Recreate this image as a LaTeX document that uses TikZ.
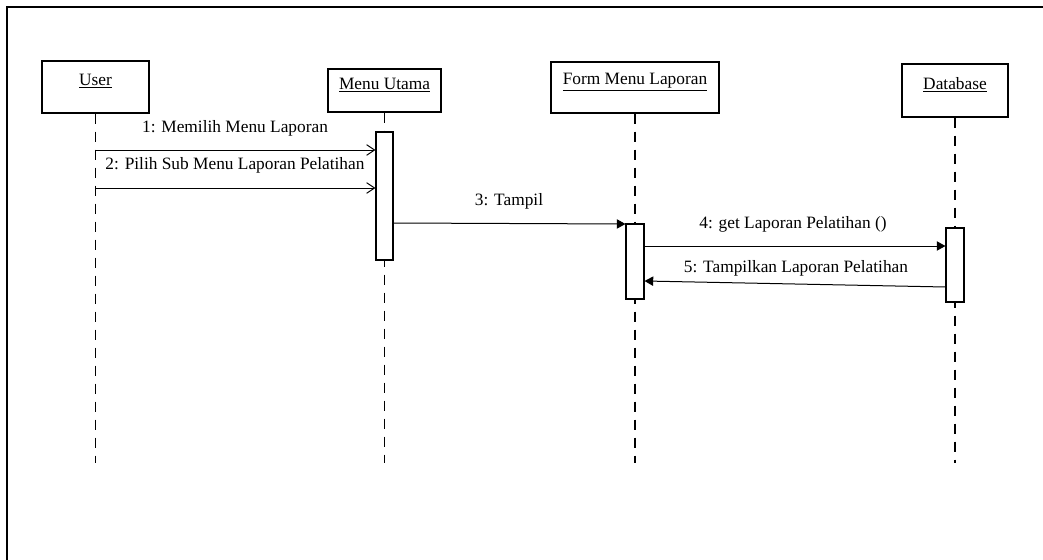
\documentclass[tikz,border=0pt]{standalone}
\usepackage{fontspec}
\setmainfont{Liberation Serif}
\usetikzlibrary{arrows.meta,fit}
\begin{document}
\begin{tikzpicture}[x=0.75pt,y=-0.75pt,
  objbox/.style={draw,line width=0.9pt,inner sep=0pt,fill=white,font=\fontsize{13}{15}\selectfont},
  actbox/.style={draw,line width=0.8pt,inner sep=0pt,fill=white},
  lifeline/.style={line width=0.9pt,dash pattern=on 7.5pt off 6pt},
  msgopen/.style={line width=0.75pt,-{Straight Barb[length=6pt,width=8pt,line width=0.75pt]}},
  msgfill/.style={line width=0.75pt,-{Triangle[length=6.5pt,width=7pt]}},
  msglabel/.style={font=\fontsize{13}{15}\selectfont,inner sep=0pt}]
\useasboundingbox (0,0) rectangle (1043,560);
% partial frame
\draw[line width=1.8pt] (7,562) -- (7,7) -- (1045,7);
% objects
\node[objbox,fit={(42,61) (149,113)}] (user) {\underline{User}};
\node[objbox,fit={(328,69) (441,112)}] (menu) {\underline{Menu Utama}};
\node[objbox,fit={(551,62) (719,113)}] (form) {\underline{Form Menu Laporan}};
\node[objbox,fit={(902,64) (1008,117)}] (db) {\underline{Database}};
% lifelines
\draw[lifeline] (user.south) -- (user.south |- 0,463);
\draw[lifeline] (menu.south) -- (menu.south |- 0,463);
\draw[lifeline] (form.south) -- (form.south |- 0,463);
\draw[lifeline] (db.south) -- (db.south |- 0,463);
% activations
\node[actbox,fit={(376,132) (393,260)}] (a1) {};
\node[actbox,fit={(626,224) (644,299)}] (a2) {};
\node[actbox,fit={(946,228) (964,302)}] (a3) {};
% messages
\draw[msgopen] (user.south |- 0,150) -- (a1.west |- 0,150);
\node[msglabel] (l1) at (235,128) {1: Memilih Menu Laporan};
\draw[msgopen] (user.south |- 0,188) -- (a1.west |- 0,188);
\node[msglabel] (l2) at (235,165) {2: Pilih Sub Menu Laporan Pelatihan};
\draw[msgfill] (a1.east |- 0,223) -- (a2.west |- 0,224);
\node[msglabel] (l3) at (509,201) {3: Tampil};
\draw[msgfill] (a2.east |- 0,246) -- (a3.west |- 0,246);
\node[msglabel] (l4) at (793,224) {4: get Laporan Pelatihan ()};
\draw[msgfill] (a3.west |- 0,287) -- (a2.east |- 0,281);
\node[msglabel] (l5) at (796,268) {5: Tampilkan Laporan Pelatihan};
\end{tikzpicture}
\end{document}
